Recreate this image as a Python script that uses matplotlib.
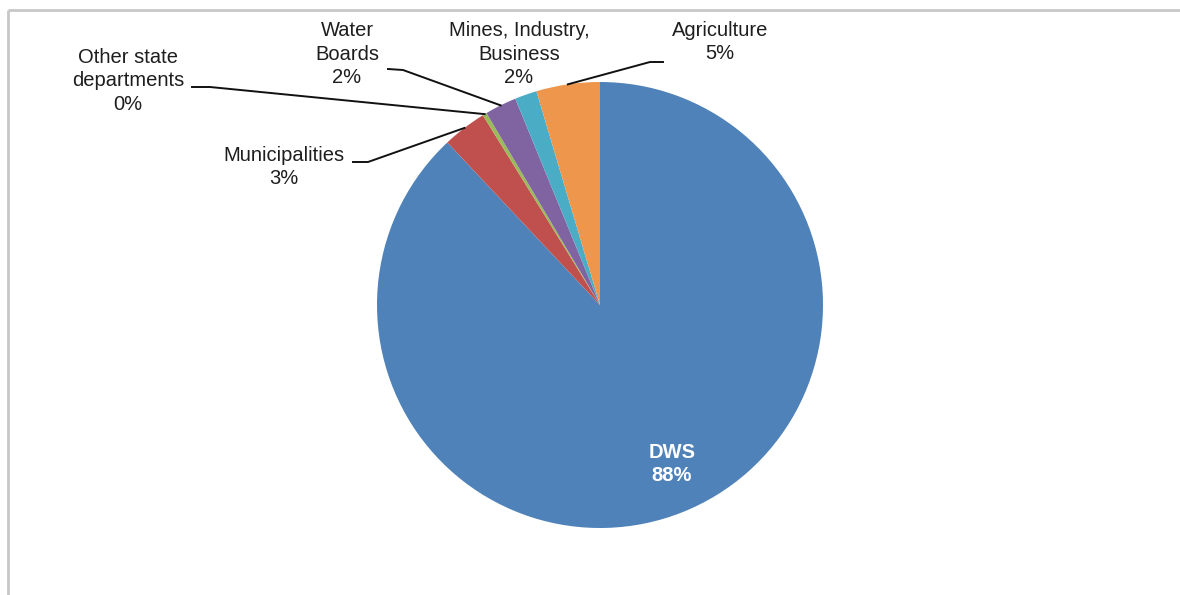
import numpy as np
import matplotlib.pyplot as plt

plt.rcParams['font.family'] = ['Liberation Sans', 'DejaVu Sans']

# Data (share of total, %), clockwise from 12 o'clock
categories = ['DWS', 'Municipalities', 'Other state\ndepartments', 'Water\nBoards',
              'Mines, Industry,\nBusiness', 'Agriculture']
shares = [88.0, 3.2, 0.3, 2.3, 1.6, 4.6]
pct_labels = ['88%', '3%', '0%', '2%', '2%', '5%']
colors = ['#4F82B9', '#C0504D', '#9BBB59', '#8064A2', '#4BACC6', '#EE964B']

W, H = 1180, 595
fig = plt.figure(figsize=(W / 100, H / 100), dpi=100)
ax = fig.add_axes([0, 0, 1, 1])

cx, cy, r = 600, H - 305, 223
wedges, _ = ax.pie(shares, colors=colors, startangle=90, counterclock=False,
                   center=(cx, cy), radius=r, frame=True,
                   wedgeprops=dict(linewidth=0))
ax.set_xlim(0, W)
ax.set_ylim(0, H)
ax.axis('off')

# chart frame (extends past right and bottom)
ax.plot([8, W + 5], [H - 10, H - 10], color='#c8c8c8', lw=2, solid_capstyle='butt')
ax.plot([8, 8], [H - 10, -5], color='#c8c8c8', lw=2, solid_capstyle='butt')

txt = dict(fontsize=14.5, color='#1e1e1e', ha='center', va='center', linespacing=1.32)


def edge_point(w):
    a = np.deg2rad((w.theta1 + w.theta2) / 2)
    return cx + r * np.cos(a), cy + r * np.sin(a)


# label centre, leader start and stub end (pixel coords, y from top)
layout = {
    1: ((284, 167), (353, 162), (368, 162)),
    2: ((128, 81), (192, 87), (210, 87)),
    3: ((347, 54), (388, 69), (403, 70)),
    4: ((519, 54), None, None),
    5: ((720, 42), (663, 62), (650, 62)),
}

for i, ((lx, ly), p0, p1) in layout.items():
    ax.text(lx, H - ly, categories[i] + '\n' + pct_labels[i], **txt)
    if p0 is not None:
        ex, ey = edge_point(wedges[i])
        ax.plot([p0[0], p1[0], ex], [H - p0[1], H - p1[1], ey],
                color='#111111', lw=1.4)

ax.text(672, H - 464, categories[0] + '\n' + pct_labels[0], fontsize=14.5,
        color='white', fontweight='bold', ha='center', va='center', linespacing=1.32)

fig.savefig('out.png', dpi=100)
